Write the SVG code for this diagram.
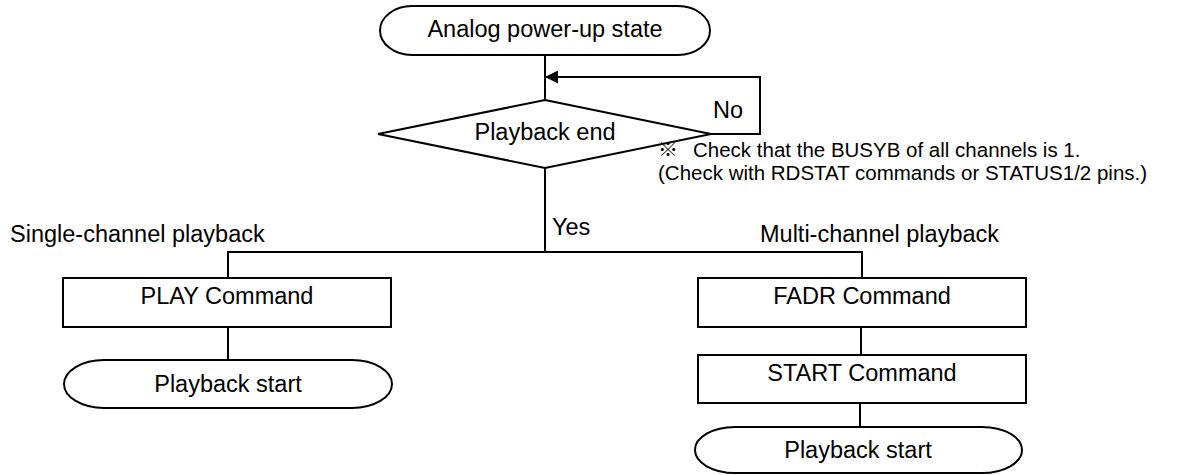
<svg xmlns="http://www.w3.org/2000/svg" width="1181" height="475" viewBox="0 0 1181 475">
<style>
.shape{fill:#fff;stroke:#000;stroke-width:2}
.conn{fill:none;stroke:#000;stroke-width:2}
text{font-family:"Liberation Sans",Arial,sans-serif;fill:#000}
.lbl{font-size:23.5px;text-anchor:middle}
.free{font-size:23.5px}
.note{font-size:20.5px}
</style>
<defs>
<marker id="arr" viewBox="0 0 13 13" refX="13" refY="6.5" markerWidth="13" markerHeight="13" markerUnits="userSpaceOnUse" orient="auto">
<path d="M0,0 L13,6.5 L0,13 Z" fill="#000"/>
</marker>
</defs>
<rect width="1181" height="475" fill="#fff"/>
<g id="connectors">
<path class="conn" d="M545,55 V100"/>
<path class="conn" d="M711,134 H760 V77 H545" marker-end="url(#arr)"/>
<path class="conn" d="M545,168 V252"/>
<path class="conn" d="M228,278 V252 H862 V278"/>
<path class="conn" d="M228,327 V360"/>
<path class="conn" d="M861,327 V355"/>
<path class="conn" d="M860,403 V427"/>
<text class="free" x="713" y="118">No</text>
<text class="free" x="552" y="235">Yes</text>
</g>
<g id="start">
<rect class="shape" x="380" y="6" width="330" height="49" rx="32" ry="24.5"/>
<text class="lbl" x="545" y="37">Analog power-up state</text>
</g>
<g id="decision">
<polygon class="shape" points="545,100 711,134 545,168 378,134"/>
<text class="lbl" x="545" y="140">Playback end</text>
</g>
<g id="note">
<text class="note" y="157"><tspan x="658" font-family="'Noto Sans CJK JP',sans-serif" font-size="20">※</tspan><tspan x="693">Check that the BUSYB of all channels is 1.</tspan></text>
<text class="note" x="658" y="180">(Check with RDSTAT commands or STATUS1/2 pins.)</text>
</g>
<g id="single-label"><text class="free" x="10" y="242">Single-channel playback</text></g>
<g id="multi-label"><text class="free" x="760" y="242">Multi-channel playback</text></g>
<g id="play">
<rect class="shape" x="63" y="278" width="328" height="49"/>
<text class="lbl" x="227" y="304">PLAY Command</text>
</g>
<g id="single-end">
<rect class="shape" x="64" y="360" width="328" height="48" rx="40" ry="24"/>
<text class="lbl" x="228" y="392">Playback start</text>
</g>
<g id="fadr">
<rect class="shape" x="698" y="278" width="328" height="49"/>
<text class="lbl" x="862" y="304">FADR Command</text>
</g>
<g id="startcmd">
<rect class="shape" x="698" y="355" width="328" height="48"/>
<text class="lbl" x="862" y="381">START Command</text>
</g>
<g id="multi-end">
<rect class="shape" x="695" y="427" width="327" height="46" rx="40" ry="23"/>
<text class="lbl" x="858" y="458">Playback start</text>
</g>
</svg>
